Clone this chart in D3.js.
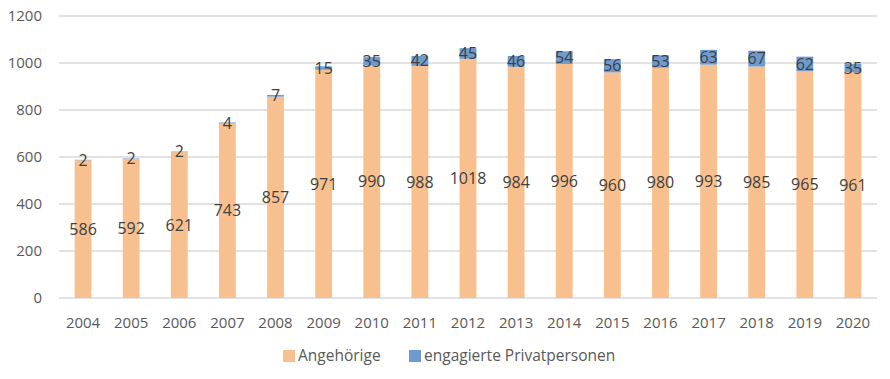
<!DOCTYPE html>
<html>
<head>
<meta charset="utf-8">
<script src="https://cdn.jsdelivr.net/npm/d3@7"></script>
<style>
body { margin: 0; background: #fff; }
svg text { font-family: "Open Sans", "Liberation Sans", sans-serif; }
</style>
</head>
<body>
<svg id="chart"></svg>
<script>
var years = ["2004","2005","2006","2007","2008","2009","2010","2011","2012","2013","2014","2015","2016","2017","2018","2019","2020"];
var angehoerige = [586,592,621,743,857,971,990,988,1018,984,996,960,980,993,985,965,961];
var privat = [2,2,2,4,7,15,35,42,45,46,54,56,53,63,67,62,35];
var yTicks = [0,200,400,600,800,1000,1200];
var seriesNames = ["Angehörige", "engagierte Privatpersonen"];
var colors = ["#F9C08F", "#6E9BCF"];

var width = 890;
var height = 379;
var plotLeft = 59, plotRight = 877, plotTop = 16, plotBottom = 298;

var svg = d3.select("#chart")
    .attr("width", width)
    .attr("height", height);

var x = d3.scaleBand()
    .domain(years)
    .range([plotLeft, plotRight])
    .paddingInner(0.65)
    .paddingOuter(0.325);

var y = d3.scaleLinear()
    .domain([0, 1200])
    .range([plotBottom, plotTop]);

// gridlines
svg.append("g")
    .selectAll("line")
    .data(yTicks)
    .enter()
    .append("line")
    .attr("x1", plotLeft)
    .attr("x2", plotRight)
    .attr("y1", d => y(d))
    .attr("y2", d => y(d))
    .attr("stroke", "#d9d9d9")
    .attr("stroke-width", 1.5);

// y tick labels
svg.append("g")
    .selectAll("text")
    .data(yTicks)
    .enter()
    .append("text")
    .attr("x", 42)
    .attr("y", d => y(d))
    .attr("dy", "0.35em")
    .attr("text-anchor", "end")
    .attr("font-size", 15)
    .attr("fill", "#595959")
    .text(d => d);

// x tick labels
svg.append("g")
    .selectAll("text")
    .data(years)
    .enter()
    .append("text")
    .attr("x", d => x(d) + x.bandwidth() / 2)
    .attr("y", 323)
    .attr("dy", "0.35em")
    .attr("text-anchor", "middle")
    .attr("font-size", 15)
    .attr("fill", "#595959")
    .text(d => d);

var rows = years.map((yr, i) => ({year: yr, a: angehoerige[i], p: privat[i]}));

var bars = svg.append("g")
    .selectAll("g")
    .data(rows)
    .enter()
    .append("g");

bars.append("rect")
    .attr("x", d => x(d.year))
    .attr("y", d => y(d.a))
    .attr("width", x.bandwidth())
    .attr("height", d => y(0) - y(d.a))
    .attr("fill", colors[0]);

bars.append("rect")
    .attr("x", d => x(d.year))
    .attr("y", d => y(d.a + d.p))
    .attr("width", x.bandwidth())
    .attr("height", d => y(d.a) - y(d.a + d.p))
    .attr("fill", colors[1]);

bars.append("text")
    .attr("x", d => x(d.year) + x.bandwidth() / 2)
    .attr("y", d => y(d.a / 2))
    .attr("dy", "0.35em")
    .attr("text-anchor", "middle")
    .attr("font-size", 16)
    .attr("fill", "#404040")
    .text(d => d.a);

bars.append("text")
    .attr("x", d => x(d.year) + x.bandwidth() / 2)
    .attr("y", d => y(d.a + d.p / 2))
    .attr("dy", "0.35em")
    .attr("text-anchor", "middle")
    .attr("font-size", 16)
    .attr("fill", "#404040")
    .text(d => d.p);

// legend
var legendX = [283, 409];
var legend = svg.append("g")
    .selectAll("g")
    .data(seriesNames)
    .enter()
    .append("g")
    .attr("transform", (d, i) => "translate(" + legendX[i] + ",356)");

legend.append("rect")
    .attr("x", 0)
    .attr("y", -6)
    .attr("width", 12)
    .attr("height", 12)
    .attr("fill", (d, i) => colors[i]);

legend.append("text")
    .attr("x", 15)
    .attr("y", 0)
    .attr("dy", "0.35em")
    .attr("font-size", 15.5)
    .attr("fill", "#595959")
    .text(d => d);
</script>
</body>
</html>
